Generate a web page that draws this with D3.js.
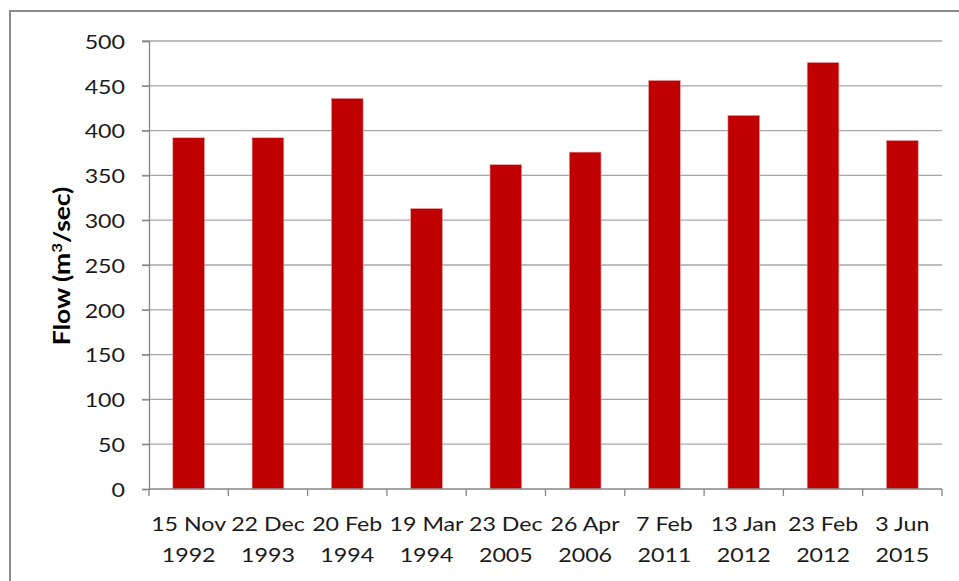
<!DOCTYPE html>
<html>
<head>
<meta charset="utf-8">
<script src="https://cdn.jsdelivr.net/npm/d3@7"></script>
<style>
  html, body { margin: 0; padding: 0; background: #fff; }
  svg { display: block; }
  .tick-label { font-family: Lato, "Open Sans", sans-serif; font-size: 20px; fill: #1a1a1a; }
  .y-label { font-family: Lato, "Open Sans", sans-serif; font-size: 22px; font-weight: bold; fill: #000; }
</style>
</head>
<body>
<div id="chart"></div>
<script>
// flow per event date
const dates = ["15 Nov|1992", "22 Dec|1993", "20 Feb|1994", "19 Mar|1994", "23 Dec|2005",
               "26 Apr|2006", "7 Feb|2011", "13 Jan|2012", "23 Feb|2012", "3 Jun|2015"];
const flows = [392, 392, 436, 313, 362, 376, 456, 417, 476, 389];
const yTicks = [0, 50, 100, 150, 200, 250, 300, 350, 400, 450, 500];

const W = 959, H = 581;
let margin = {top: 41, right: 17, bottom: 92, left: 149};
const stretch = 1.16;  // the original font is wider than anything installed

const svg = d3.select("#chart")
    .append("svg")
    .attr("width", W)
    .attr("height", H);

// outer frame (runs off right/bottom edge like in the source)
svg.append("rect")
    .attr("x", 10).attr("y", 11)
    .attr("width", W + 20).attr("height", H + 20)
    .attr("fill", "none")
    .attr("stroke", "#8c8c8c")
    .attr("stroke-width", 2);

const x = d3.scaleBand()
    .domain(dates)
    .range([margin.left, W - margin.right])
    .paddingInner(0.6)
    .paddingOuter(0.3);

const y = d3.scaleLinear()
    .domain([0, 500])
    .range([H - margin.bottom, margin.top]);

const x0 = margin.left, x1 = W - margin.right, yBase = y(0);

// gridlines
svg.append("g")
    .selectAll("line")
    .data(yTicks.filter(d => d > 0))
    .enter()
    .append("line")
    .attr("x1", x0 - 7).attr("x2", x1)
    .attr("y1", d => y(d)).attr("y2", d => y(d))
    .attr("stroke", "#a6a6a6")
    .attr("stroke-width", 1.3);

// bars
svg.selectAll("rect.bar")
    .data(flows)
    .enter()
    .append("rect")
    .classed("bar", true)
    .attr("x", (d, i) => x(dates[i]))
    .attr("y", d => y(d))
    .attr("width", x.bandwidth())
    .attr("height", d => yBase - y(d))
    .attr("fill", "#c00000")
    .attr("stroke", "#e9a3a3")
    .attr("stroke-width", 0.6);

// y axis
let yAxis = svg.append("g")
    .attr("transform", "translate(" + x0 + ",0)")
    .call(d3.axisLeft(y).tickValues(yTicks).tickSize(7).tickPadding(0).tickFormat(d3.format("d")));
yAxis.select(".domain").attr("stroke", "#868686").attr("stroke-width", 1.3);
yAxis.selectAll(".tick line").attr("stroke", "#868686").attr("stroke-width", 1.3);
yAxis.selectAll(".tick text")
    .attr("class", "tick-label")
    .attr("x", null)
    .attr("dy", null)
    .attr("dominant-baseline", "central")
    .attr("transform", "translate(-24,0) scale(" + stretch + ",1)");

// x axis: ticks at band boundaries
let xAxis = svg.append("g");
xAxis.append("line")
    .attr("x1", x0).attr("x2", x1)
    .attr("y1", yBase).attr("y2", yBase)
    .attr("stroke", "#868686")
    .attr("stroke-width", 1.3);
xAxis.selectAll("line.xt")
    .data(d3.range(dates.length + 1))
    .enter()
    .append("line")
    .classed("xt", true)
    .attr("x1", i => x0 + i * x.step()).attr("x2", i => x0 + i * x.step())
    .attr("y1", yBase).attr("y2", yBase + 7)
    .attr("stroke", "#868686")
    .attr("stroke-width", 1.3);

let labels = xAxis.selectAll("g.xl")
    .data(dates)
    .enter()
    .append("g")
    .classed("xl", true)
    .attr("transform", d => "translate(" + (x(d) + x.bandwidth() / 2) + "," + (yBase + 42) + ") scale(" + stretch + ",1)");
labels.append("text")
    .attr("class", "tick-label")
    .attr("text-anchor", "middle")
    .text(d => d.split("|")[0]);
labels.append("text")
    .attr("class", "tick-label")
    .attr("text-anchor", "middle")
    .attr("y", 31)
    .text(d => d.split("|")[1]);

// y axis title
let yl = svg.append("text")
    .attr("class", "y-label")
    .attr("text-anchor", "middle")
    .attr("transform", "translate(70,266) rotate(-90) scale(1.2,1)");
yl.append("tspan").text("Flow (m");
yl.append("tspan").attr("font-size", "14px").attr("dy", -8).text("3");
yl.append("tspan").attr("dy", 8).text("/sec)");
</script>
</body>
</html>
